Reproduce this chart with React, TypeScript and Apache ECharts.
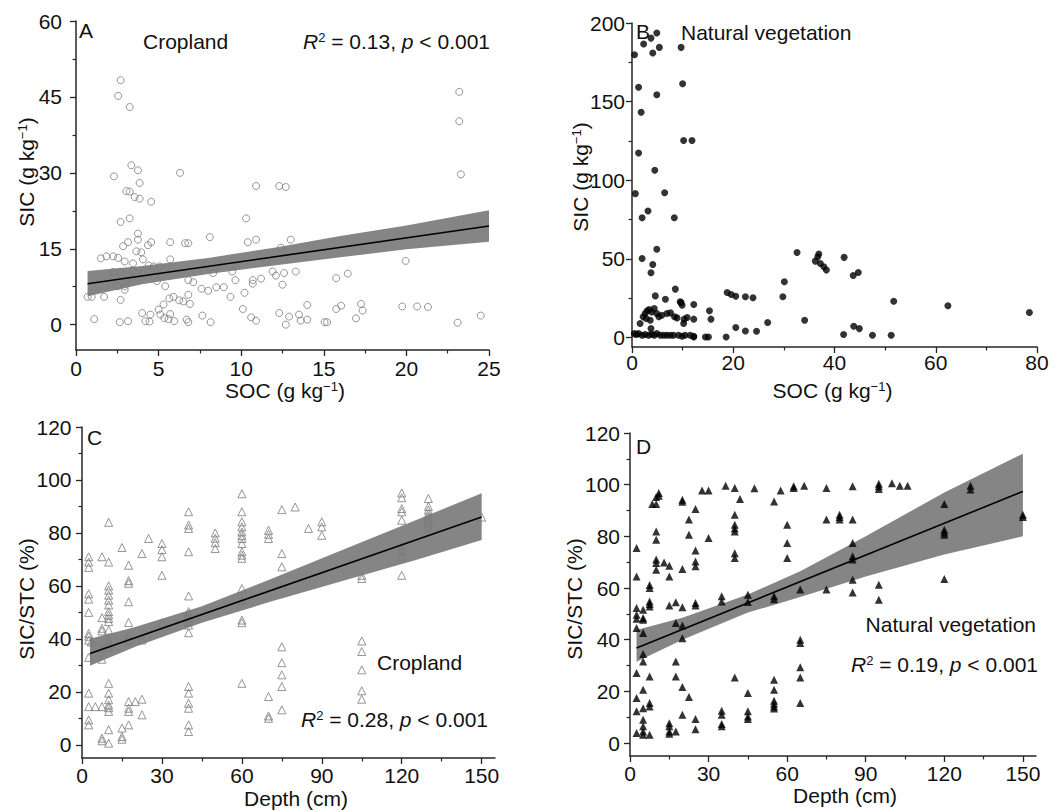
import React, { useEffect, useRef } from "react";
import * as echarts from "echarts";

const FONT = "'Liberation Sans', Arial, Helvetica, sans-serif";

// ---------- Panel A: Cropland SOC vs SIC ----------
const cropSocSic: number[][] = [
  [2.7, 48.3], [2.55, 45.2], [3.25, 43.0], [3.35, 31.5], [3.75, 30.5], [2.3, 29.3], [6.3, 30.0],
  [3.85, 28.0], [3.05, 26.4], [3.25, 26.3], [3.55, 25.2], [3.85, 24.9], [4.55, 24.3], [2.7, 20.3],
  [3.25, 21.0], [3.75, 18.0], [3.75, 16.8], [3.15, 16.3], [2.85, 15.5], [4.35, 15.7], [4.55, 16.3],
  [5.7, 16.3], [6.6, 16.1], [6.8, 16.1], [8.1, 17.3], [1.5, 13.1], [1.85, 13.5], [2.25, 13.5],
  [2.55, 13.2], [3.65, 14.5], [3.95, 14.3], [2.95, 12.5], [3.45, 12.1], [4.05, 12.9], [4.4, 11.7],
  [4.7, 11.5], [5.05, 11.5], [5.7, 12.9], [2.25, 10.4], [2.65, 10.4], [3.45, 10.7], [4.05, 10.1],
  [3.35, 9.2], [2.5, 7.6], [2.95, 7.6], [2.95, 6.9], [4.9, 8.6], [5.4, 7.6], [0.7, 5.5], [0.95, 5.5],
  [1.7, 5.5], [2.7, 4.9], [1.1, 1.1], [2.65, 0.5], [3.15, 0.7], [4.0, 2.3], [4.5, 2.0], [4.2, 0.7],
  [4.45, 0.6], [5.0, 3.0], [5.3, 4.0], [5.65, 5.2], [5.9, 5.5], [6.25, 4.8], [6.5, 4.6], [6.9, 4.1],
  [6.8, 5.9], [5.1, 2.0], [5.35, 1.3], [5.7, 2.1], [5.6, 1.1], [5.95, 0.7], [6.7, 1.0], [6.8, 0.5],
  [7.65, 1.8], [8.15, 0.5], [6.8, 8.8], [7.1, 8.4], [7.6, 7.1], [8.0, 6.7], [7.9, 11.9], [8.3, 10.2],
  [8.6, 11.9], [8.5, 7.4], [8.95, 7.4], [9.35, 5.5], [9.45, 10.5], [9.65, 8.8], [10.2, 6.3],
  [10.1, 3.1], [10.6, 1.45], [10.9, 0.8], [10.3, 21.0], [10.4, 16.3], [10.9, 16.8], [10.9, 27.4],
  [10.7, 8.8], [10.7, 8.1], [11.2, 9.1], [11.5, 12.5], [11.9, 10.5], [12.1, 9.7], [12.3, 27.4],
  [12.7, 27.2], [12.4, 15.2], [13.0, 16.8], [12.6, 10.2], [12.5, 7.9], [12.3, 2.3], [12.7, 0],
  [12.9, 1.6], [13.3, 10.5], [13.5, 2.0], [14.0, 3.9], [15.75, 9.2], [16.45, 10.1], [15.75, 3.1],
  [16.05, 3.75], [17.25, 4.1], [17.35, 2.8], [16.95, 1.25], [15.2, 0.5], [15.05, 0.5], [14.0, 1.0],
  [13.6, 0.8], [19.95, 12.6], [19.75, 3.6], [20.65, 3.6], [21.3, 3.5], [23.2, 46.0], [23.2, 40.2],
  [23.3, 29.7], [23.1, 0.4], [24.5, 1.8],
];
const fitA: number[][] = [[0.7, 8.1], [25, 19.5]];
const bandA: number[][] = [
  [0.7, 5.6, 10.6], [4, 8.0, 11.6], [8, 10.0, 13.2], [12, 11.7, 15.2], [16, 13.3, 17.5],
  [20, 14.9, 19.6], [25, 16.4, 22.6],
];

// ---------- Panel B: Natural vegetation SOC vs SIC ----------
const natSocSic: number[][] = [
  [0.5, 179.8], [2.3, 186.6], [3.75, 190.4], [4.9, 193.6], [4.1, 180.9], [5.4, 184.5], [9.7, 184.5],
  [1.3, 159.2], [1.8, 143.3], [4.9, 154.4], [10.0, 161.4], [1.3, 117.4], [10.2, 125.3], [11.85, 125.3],
  [4.5, 106.4], [0.66, 91.5], [6.45, 92.1], [3.16, 80.5], [2.0, 76.2], [8.36, 76.2], [4.9, 56.1],
  [2.0, 50.3], [4.1, 46.5], [3.75, 41.2], [32.6, 54.1], [36.9, 53.1], [36.7, 51.4], [36.2, 48.6],
  [37.2, 47.1], [37.9, 45.0], [38.4, 42.9], [41.9, 51.0], [43.7, 39.5], [44.7, 41.4], [30.1, 35.5],
  [29.8, 25.9], [8.56, 30.8], [4.6, 26.5], [6.6, 24.4], [9.7, 22.3], [12.2, 21.0], [18.8, 28.7],
  [19.6, 27.4], [20.5, 26.3], [22.4, 25.9], [23.9, 25.3], [51.7, 23.1], [62.4, 20.2], [78.5, 15.9],
  [15.3, 17.0], [15.6, 11.7], [26.8, 9.6], [34.1, 11.0], [20.5, 6.4], [22.4, 4.2], [24.6, 4.0],
  [41.8, 1.9], [43.8, 7.2], [44.9, 5.7], [47.5, 1.5], [51.2, 1.5], [18.6, 0.4], [14.5, 0.4],
  [15.1, 0.4], [12.2, 0.4], [10.5, 1.5], [10.2, 8.9], [10.3, 11.7], [10.9, 12.7], [12.2, 11.7],
  [1.6, 8.9], [2.2, 13.2], [2.6, 15.3], [3.0, 17.0], [3.4, 17.8], [3.9, 16.3], [4.4, 18.5],
  [4.9, 15.3], [5.9, 14.2], [6.9, 15.3], [7.6, 15.7], [8.4, 13.2], [8.9, 12.5], [5.3, 13.2],
  [3.6, 11.0], [3.75, 5.7], [2.8, 12.1], [9.9, 20.6], [9.5, 22.7], [0.46, 2.5], [0.86, 1.9],
  [1.3, 2.5], [2.0, 1.5], [2.6, 1.9], [3.3, 1.5], [3.9, 2.1], [4.4, 1.5], [4.9, 2.5], [5.6, 1.5],
  [6.25, 1.5], [6.9, 1.5], [7.6, 1.5], [8.2, 1.5], [9.2, 1.5], [9.9, 0.8], [11.5, 1.5], [12.2, 0.8],
];

// ---------- Panel C: Cropland depth vs SIC/STC ----------
const cropDepthGroups: [number, number[]][] = [
  [2.5, [71, 69, 67, 57, 55, 50, 42, 41, 39.5, 33, 19.5, 14.4, 9.4, 7.5]],
  [3.5, [38.8]],
  [5, [14.4]],
  [7.5, [71, 48, 44, 43, 36.4, 32.3, 14.4, 2.5, 1.5]],
  [10, [84, 69, 60, 58.4, 56.5, 54.6, 52.8, 50.3, 49, 47.7, 46.5, 43.3, 39.6, 38.3, 37, 23.2, 19.5, 17, 15, 14, 12.6, 5.7, 0.6]],
  [15, [74.5, 6.3, 3.1, 2.1]],
  [17.5, [67.8, 62, 61, 54, 46.2, 41.2, 39.6, 16.3, 13.8, 12.6, 7.5]],
  [20, [16.3]],
  [22.5, [72.2, 39.6, 17.2, 11.3]],
  [25, [77.9]],
  [30, [76, 73.7, 71, 64, 46.1]],
  [40, [88, 83, 81.7, 72.9, 56.2, 50.3, 49.4, 48, 46.5, 45.2, 42.3, 22, 19.5, 15.7, 13.8, 7.5, 5]],
  [50, [80, 78, 76.3, 74.1]],
  [60, [94.8, 88, 84.2, 82.3, 80.4, 79.1, 77.9, 76, 72.9, 71.6, 70.4, 59, 54.6, 47.1, 46.1, 23.2]],
  [70, [81, 79.5, 77.9, 18.2, 10.9, 10]],
  [75, [88.8, 72.2, 67.2, 37, 31, 26.4, 22, 13.2]],
  [80, [89.8]],
  [85, [81.7]],
  [90, [84.2, 82.3, 79.1]],
  [105, [64, 62.8, 39.2, 35.2, 28.3, 20.4, 17.2]],
  [120, [95.1, 93.3, 89.2, 88, 84.8, 75, 73.5, 71, 64]],
  [130, [93, 90, 88.6, 87.3, 86.3, 85.4, 84.5, 83.5, 82.3]],
  [150, [86]],
];
const fitC: number[][] = [[3, 34.5], [150, 86]];
const bandC: number[][] = [
  [3, 29.8, 40.0], [20, 37.0, 44.5], [45, 46.1, 52.3], [70, 53.8, 62.2], [100, 62.5, 74.5],
  [125, 69.7, 84.7], [150, 77.3, 95.0],
];

// ---------- Panel D: Natural vegetation depth vs SIC/STC ----------
const natDepthGroups: [number, number[]][] = [
  [2.5, [75.5, 64.5, 52.3, 49.7, 48.1, 44.5, 27.1, 17.4, 12.3, 3.9]],
  [5, [51.6, 48.4, 47.7, 42.6, 34.5, 31.6, 20.6, 13.5, 9, 6.5, 4.5, 3.2]],
  [7.5, [61.2, 60, 54.8, 53.8, 52.9, 25.8, 15.5, 14.2, 3.2]],
  [8.5, [92.5]],
  [10, [95.2, 92.5, 81.9, 78.7, 71, 69.7, 67.1]],
  [11, [96.8, 95.7]],
  [13, [69.9]],
  [15, [68.6, 64.5, 53.2, 7.7, 6.5, 4.5, 3.6]],
  [17.5, [54.5, 46.5, 31.6, 25.8, 4.5]],
  [20, [94.2, 93.4, 67.4, 52.6, 45.5, 40.6, 21.7, 11]],
  [22.5, [86.5, 80.6, 17.8]],
  [25, [90.6, 74.5, 70.3, 68.4, 54.2, 53.2, 9.3, 5.4]],
  [27.5, [97.7]],
  [30, [97.7, 79.4]],
  [35, [56.8, 54.8, 12.5, 11, 7.4, 6.5]],
  [36.5, [99.6]],
  [40, [98.7, 88.4, 84.5, 83, 81.9, 73.5, 71.6, 25.4]],
  [42, [94.5]],
  [45, [57.4, 54.6, 19.4, 12.3, 10.3, 9.3]],
  [47.5, [98.6]],
  [55, [93.5, 56.8, 55.7, 24.5, 20.6, 16.4, 15.2, 14.2, 13.4]],
  [57.5, [97.7]],
  [60, [84.5, 77.4, 71.6]],
  [62.5, [99.4, 98.7]],
  [65, [59.4, 40, 38.7, 29.3, 25.4, 15.5]],
  [66.5, [99.6]],
  [75, [98.7, 86.5, 59.4]],
  [80, [88.4, 87.5, 86.5]],
  [85, [99.4, 86.5, 77.4, 72.3, 71, 63.2, 58.3]],
  [95, [100.4, 99.4, 98.3, 61.3, 55.5]],
  [100, [100.6]],
  [103, [99.6]],
  [106, [99.6]],
  [120, [92.5, 82.6, 81.5, 80.6, 63.5]],
  [130, [99.6, 98.1]],
  [150, [88.4, 87.5]],
];
const fitD: number[][] = [[2.5, 36.8], [150, 97.4]];
const bandD: number[][] = [
  [2.5, 31.5, 43.8], [20, 40.0, 48.5], [45, 50.5, 57.5], [65, 56.5, 66.5], [90, 64.5, 80.0],
  [120, 73.0, 97.0], [150, 80.0, 112.0],
];

// ---------- Tick values ----------
const ticksAX = [0, 5, 10, 15, 20, 25];
const minorAX = [2.5, 7.5, 12.5, 17.5, 22.5];
const ticksAY = [0, 15, 30, 45, 60];
const minorAY = [7.5, 22.5, 37.5, 52.5];
const ticksBX = [0, 20, 40, 60, 80];
const minorBX = [10, 30, 50, 70];
const ticksBY = [0, 50, 100, 150, 200];
const minorBY = [25, 75, 125, 175];
const ticksDepth = [0, 30, 60, 90, 120, 150];
const minorDepth = [15, 45, 75, 105, 135];
const ticksRatio = [0, 20, 40, 60, 80, 100, 120];
const minorRatio = [10, 30, 50, 70, 90, 110];

const flatten = (groups: [number, number[]][]) =>
  groups.flatMap(([d, vals]) => vals.map((v) => [d, v]));

const AXIS_COLOR = "#262626";

function axisPair(
  dim: "x" | "y",
  gridIndex: number,
  min: number,
  max: number,
  ticks: number[],
  minor: number[],
  margin: number
) {
  const position = dim === "x" ? "bottom" : "left";
  const main = {
    type: "value",
    gridIndex,
    position,
    min,
    max,
    splitLine: { show: false },
    axisLine: { show: true, onZero: false, lineStyle: { color: AXIS_COLOR, width: 1.5 } },
    axisTick: { show: true, customValues: ticks, length: 6, lineStyle: { color: AXIS_COLOR, width: 1.3 } },
    axisLabel: {
      show: true,
      customValues: ticks,
      margin,
      fontSize: 21,
      fontFamily: FONT,
      color: "#111",
    },
  };
  const minorAxis = {
    type: "value",
    gridIndex,
    position,
    min,
    max,
    splitLine: { show: false },
    axisLine: { show: false, onZero: false },
    axisTick: { show: true, customValues: minor, length: 3.5, lineStyle: { color: AXIS_COLOR, width: 1.2 } },
    axisLabel: { show: false },
  };
  return [main, minorAxis];
}

function bandSeries(rows: number[][], axisIndex: number) {
  return {
    type: "custom",
    xAxisIndex: axisIndex,
    yAxisIndex: axisIndex,
    data: rows,
    encode: { x: 0, y: [1, 2] },
    silent: true,
    z: 1,
    renderItem: (params: any, api: any) => {
      if (params.dataIndex !== 0) return null;
      const upper = rows.map((r) => api.coord([r[0], r[2]]));
      const lower = rows
        .slice()
        .reverse()
        .map((r) => api.coord([r[0], r[1]]));
      return {
        type: "polygon",
        shape: { points: upper.concat(lower) },
        style: { fill: "#858585" },
      };
    },
  };
}

function fitSeries(rows: number[][], axisIndex: number) {
  return {
    type: "line",
    xAxisIndex: axisIndex,
    yAxisIndex: axisIndex,
    data: rows,
    showSymbol: false,
    symbol: "none",
    silent: true,
    z: 4,
    lineStyle: { color: "#000", width: 1.6 },
  };
}

const RICH = {
  i: { fontStyle: "italic", fontSize: 21, fontFamily: FONT, fill: "#111" },
  s: { fontSize: 13, fontFamily: FONT, fill: "#111", verticalAlign: "top" },
};

function txt(x: number, y: number, text: string, align = "left", rotation = 0) {
  return {
    type: "text",
    x,
    y,
    rotation,
    silent: true,
    z: 10,
    style: {
      text,
      fontSize: 21,
      fontFamily: FONT,
      fill: "#111",
      align,
      verticalAlign: "middle",
      textAlign: align,
      textVerticalAlign: "middle",
      rich: RICH,
    },
  };
}

export default function App() {
  const ref = useRef<HTMLDivElement>(null);
  useEffect(() => {
    if (!ref.current) return;
    const chart = echarts.init(ref.current, undefined, { renderer: "svg" });

    const ax = [
      axisPair("x", 0, 0, 25, ticksAX, minorAX, 8),
      axisPair("x", 1, 0, 80, ticksBX, minorBX, 5),
      axisPair("x", 2, 0, 155, ticksDepth, minorDepth, 7),
      axisPair("x", 3, 0, 155, ticksDepth, minorDepth, 7),
    ].flat();
    const ay = [
      axisPair("y", 0, -5, 60, ticksAY, minorAY, 14),
      axisPair("y", 1, -6, 200, ticksBY, minorBY, 7),
      axisPair("y", 2, -5, 120, ticksRatio, minorRatio, 10.5),
      axisPair("y", 3, -5, 120, ticksRatio, minorRatio, 10),
    ].flat();

    const gridBase = { containLabel: false, outerBoundsMode: "none", show: false };

    const option: any = {
      animation: false,
      backgroundColor: "#fff",
      grid: [
        { ...gridBase, left: 76, top: 21, width: 413, height: 329 },
        { ...gridBase, left: 632, top: 23, width: 405, height: 324 },
        { ...gridBase, left: 82, top: 427, width: 413, height: 331 },
        { ...gridBase, left: 630, top: 433, width: 406, height: 323 },
      ],
      xAxis: ax,
      yAxis: ay,
      series: [
        bandSeries(bandA, 0),
        fitSeries(fitA, 0),
        {
          type: "scatter",
          xAxisIndex: 0,
          yAxisIndex: 0,
          data: cropSocSic,
          symbol: "circle",
          symbolSize: 7,
          z: 3,
          itemStyle: { color: "rgba(255,255,255,0)", borderColor: "#7a7a7a", borderWidth: 1 },
        },
        {
          type: "scatter",
          xAxisIndex: 2,
          yAxisIndex: 2,
          data: natSocSic,
          symbol: "circle",
          symbolSize: 7,
          z: 3,
          itemStyle: { color: "#000" },
        },
        bandSeries(bandC, 4),
        fitSeries(fitC, 4),
        {
          type: "scatter",
          xAxisIndex: 4,
          yAxisIndex: 4,
          data: flatten(cropDepthGroups),
          symbol: "triangle",
          symbolSize: 8,
          z: 3,
          itemStyle: { color: "rgba(255,255,255,0)", borderColor: "#7a7a7a", borderWidth: 1 },
        },
        bandSeries(bandD, 6),
        fitSeries(fitD, 6),
        {
          type: "scatter",
          xAxisIndex: 6,
          yAxisIndex: 6,
          data: flatten(natDepthGroups),
          symbol: "triangle",
          symbolSize: 8,
          z: 3,
          itemStyle: { color: "#000" },
        },
      ],
      graphic: [
        // Panel A
        txt(79, 30, "A"),
        txt(143, 41, "Cropland"),
        txt(490, 41.5, "{i|R}{s|2} = 0.13, {i|p} < 0.001", "right"),
        txt(26.5, 172, "SIC (g kg{s|−1})", "center", Math.PI / 2),
        txt(285, 390.5, "SOC (g kg{s|−1})", "center"),
        // Panel B
        txt(636, 31.5, "B"),
        txt(681, 32.5, "Natural vegetation"),
        txt(580, 177, "SIC (g kg{s|−1})", "center", Math.PI / 2),
        txt(832.5, 390, "SOC (g kg{s|−1})", "center"),
        // Panel C
        txt(87, 437.5, "C"),
        txt(377, 662.5, "Cropland"),
        txt(488, 719, "{i|R}{s|2} = 0.28, {i|p} < 0.001", "right"),
        txt(26, 599, "SIC/STC (%)", "center", Math.PI / 2),
        txt(296, 798.5, "Depth (cm)", "center"),
        // Panel D
        txt(636, 446.5, "D"),
        txt(1036, 624.5, "Natural vegetation", "right"),
        txt(1038, 664.5, "{i|R}{s|2} = 0.19, {i|p} < 0.001", "right"),
        txt(574, 599, "SIC/STC (%)", "center", Math.PI / 2),
        txt(845, 795.5, "Depth (cm)", "center"),
      ],
    };
    chart.setOption(option);
    return () => chart.dispose();
  }, []);
  return (
    <div
      ref={ref}
      style={{ position: "absolute", left: 0, top: 0, width: 1057, height: 812, background: "#fff" }}
    />
  );
}
